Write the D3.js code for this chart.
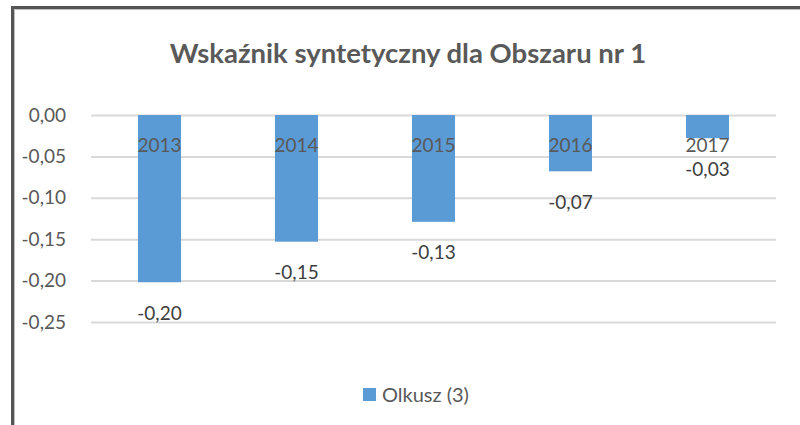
<!DOCTYPE html>
<html><head><meta charset="utf-8">
<script src="https://cdn.jsdelivr.net/npm/d3@7"></script>
<style>body{margin:0;background:#fff}svg{display:block}text{font-family:Lato,"Open Sans",sans-serif}</style>
</head><body><svg id="c" width="800" height="425"></svg>
<script>
const title = "Wskaźnik syntetyczny dla Obszaru nr 1";
const categories = ["2013","2014","2015","2016","2017"];
const seriesName = "Olkusz (3)";
const values = [-0.202, -0.153, -0.129, -0.068, -0.028];
const tickValues = [0, -0.05, -0.10, -0.15, -0.20, -0.25];

const svg = d3.select("#c");
svg.append("rect").attr("width",800).attr("height",425).attr("fill","#fff");
// frame
svg.append("path").attr("d","M14.5,425V9.5H800").attr("fill","none").attr("stroke","#bfbfbf").attr("stroke-width",1);
svg.append("path").attr("d","M12.5,425V7.5H800").attr("fill","none").attr("stroke","#555").attr("stroke-width",3);

const fmt = v => d3.format(".2f")(v).replace(".",",").replace("−","-");
const y = d3.scaleLinear().domain([-0.25,0]).range([322,115]);
const x = d3.scaleBand().domain(categories).range([91,776]).paddingInner(0.686).paddingOuter(0.343);

const yAxis = svg.append("g").attr("transform","translate(91,0)")
  .call(d3.axisLeft(y).tickValues(tickValues).tickSize(-685).tickPadding(25).tickFormat(fmt));
yAxis.select(".domain").remove();
yAxis.selectAll(".tick line").attr("stroke","#d9d9d9").attr("stroke-width",2);
yAxis.selectAll(".tick text").attr("fill","#595959").style("font-size","19px").style("font-family","Lato");

svg.append("g").selectAll("rect").data(values).join("rect")
  .attr("x",(d,i)=>x(categories[i])).attr("width",x.bandwidth())
  .attr("y",y(0)).attr("height",d=>y(d)-y(0)).attr("fill","#5b9bd5");

svg.append("g").selectAll("text").data(categories).join("text")
  .attr("x",d=>x(d)+x.bandwidth()/2).attr("y",y(0)+30).attr("dy","0.35em")
  .attr("text-anchor","middle").attr("fill","#595959").style("font-size","19px").text(d=>d);

svg.append("g").selectAll("text").data(values).join("text")
  .attr("x",(d,i)=>x(categories[i])+x.bandwidth()/2).attr("y",d=>y(d)+31).attr("dy","0.35em")
  .attr("text-anchor","middle").attr("fill","#404040").style("font-size","19px").text(d=>fmt(d));

svg.append("text").attr("x",408).attr("y",63).attr("text-anchor","middle")
  .attr("fill","#595959").style("font-size","27.5px").style("font-weight","bold").text(title);

const lg = svg.append("g");
lg.append("rect").attr("x",363).attr("y",388).attr("width",13).attr("height",13).attr("fill","#5b9bd5");
lg.append("text").attr("x",382).attr("y",395).attr("dy","0.35em").attr("fill","#595959").style("font-size","20px").text(seriesName);
</script></body></html>
